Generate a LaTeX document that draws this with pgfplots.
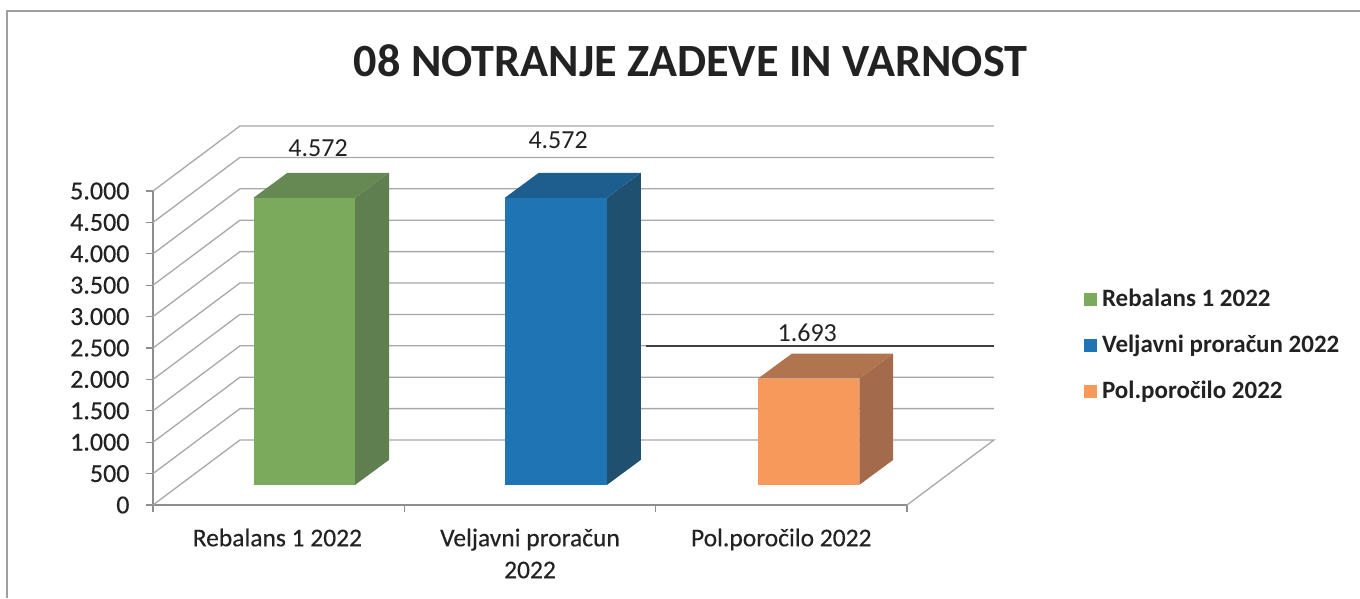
\documentclass[border=0pt]{standalone}
\usepackage{pgfplots}
\pgfplotsset{compat=1.18}
\usepackage{fontspec}
\setmainfont{Carlito}
\newfontfamily\semi[FakeBold=0.35]{Carlito}
\definecolor{gridc}{HTML}{A8A8A8}
\definecolor{axisc}{HTML}{8E8E8E}
\definecolor{txt}{HTML}{222222}
\definecolor{gF}{HTML}{7BAA5C}
\definecolor{gS}{HTML}{5F7F50}
\definecolor{gT}{HTML}{668853}
\definecolor{bF}{HTML}{1F75B4}
\definecolor{bS}{HTML}{20506F}
\definecolor{bT}{HTML}{1D5E8F}
\definecolor{oF}{HTML}{F6995A}
\definecolor{oS}{HTML}{A36B4B}
\definecolor{oT}{HTML}{B0754F}
\pgfplotsset{
  wall/.style={forget plot, gridc, line width=1.3pt, mark=none},
  face/.style={forget plot, draw=none, fill=#1, mark=none},
}
\begin{document}
\begin{tikzpicture}
\path[use as bounding box] (-153pt,-93pt) rectangle (1207pt,505pt);
\draw[color=axisc!85, line width=1.4pt] (-146pt,-93pt) -- (-146pt,494pt) -- (1207pt,494pt);
\begin{axis}[
  at={(0pt,0pt)}, anchor=south west,
  scale only axis, width=754pt, height=314pt,
  xmin=0, xmax=3, ymin=0, ymax=5000,
  clip=false,
  axis lines=left,
  axis line style={-, color=axisc, line width=1.3pt},
  every tick/.style={color=axisc, line width=1.3pt},
  major tick length=7pt,
  tick align=outside,
  xtick={0,1,2,3}, xticklabels={},
  extra x ticks={0.495,1.5,2.5},
  extra x tick labels={Rebalans 1 2022,{Veljavni proračun\\[8pt]2022},Pol.poročilo 2022},
  extra x tick style={major tick length=0pt, tick style={draw=none}},
  ytick={0,500,1000,1500,2000,2500,3000,3500,4000,4500,5000},
  /pgf/number format/assume math mode=true,
  /pgf/number format/1000 sep={.},
  /pgf/number format/min exponent for 1000 sep=3,
  y tick label style={font=\fontsize{26}{28}\semi, text=txt, xshift=-13pt},
  x tick label style={font=\fontsize{25.5}{24}\semi, text=txt, align=center, anchor=north, yshift=-20pt},
  title={\bfseries 08 NOTRANJE ZADEVE IN VARNOST},
  title style={at={(0.713,1.396)}, anchor=center, font=\fontsize{46.2}{48}\selectfont, text=txt},
  legend style={at={(1.2345,0.51)}, anchor=west, draw=none, fill=none,
    font=\fontsize{25}{26}\selectfont\bfseries, text=txt,
    row sep=23pt, cells={anchor=west}, inner sep=0pt,
    /tikz/every odd column/.append style={column sep=4pt}},
  legend cell align=left,
]
% legend
\addlegendimage{only marks, mark=square*, mark size=6pt, color=gF}
\addlegendentry{Rebalans 1 2022}
\addlegendimage{only marks, mark=square*, mark size=6pt, color=bF}
\addlegendentry{Veljavni proračun 2022}
\addlegendimage{only marks, mark=square*, mark size=6pt, color=oF}
\addlegendentry{Pol.poročilo 2022}
% walls and grid: left side wall and back wall
\addplot[wall] coordinates {(3,0) (3.346,1035) (0.346,1035) (0,0)};
\addplot[wall] coordinates {(0,500) (0.346,1535) (3.346,1535)};
\addplot[wall] coordinates {(0,1000) (0.346,2035) (3.346,2035)};
\addplot[wall] coordinates {(0,1500) (0.346,2535) (3.346,2535)};
\addplot[wall] coordinates {(0,2000) (0.346,3035) (3.346,3035)};
\addplot[wall] coordinates {(0,2500) (0.346,3535) (3.346,3535)};
\addplot[wall] coordinates {(0,3000) (0.346,4035) (3.346,4035)};
\addplot[wall] coordinates {(0,3500) (0.346,4535) (3.346,4535)};
\addplot[wall] coordinates {(0,4000) (0.346,5035) (3.346,5035)};
\addplot[wall] coordinates {(0,4500) (0.346,5535) (3.346,5535)};
\addplot[wall] coordinates {(0,5000) (0.346,6035) (3.346,6035)};
% dark stretch of the 1.500 back line
\addplot[forget plot, color=black!75, line width=1.5pt, mark=none] coordinates {(1.96,2535) (3.346,2535)};
% bars: base 320, value, side depth (0.135, 398)
\addplot[face=gS] coordinates {(0.804,320) (0.939,718) (0.939,5290) (0.804,4892)} -- cycle;
\addplot[face=gT] coordinates {(0.400,4892) (0.804,4892) (0.939,5290) (0.535,5290)} -- cycle;
\addplot[face=gF] coordinates {(0.400,320) (0.804,320) (0.804,4892) (0.400,4892)} -- cycle;
\addplot[face=bS] coordinates {(1.806,320) (1.941,718) (1.941,5290) (1.806,4892)} -- cycle;
\addplot[face=bT] coordinates {(1.400,4892) (1.806,4892) (1.941,5290) (1.535,5290)} -- cycle;
\addplot[face=bF] coordinates {(1.400,320) (1.806,320) (1.806,4892) (1.400,4892)} -- cycle;
\addplot[face=oS] coordinates {(2.810,320) (2.945,718) (2.945,2411) (2.810,2013)} -- cycle;
\addplot[face=oT] coordinates {(2.407,2013) (2.810,2013) (2.945,2411) (2.542,2411)} -- cycle;
\addplot[face=oF] coordinates {(2.407,320) (2.810,320) (2.810,2013) (2.407,2013)} -- cycle;
% data labels
\addplot[forget plot, only marks, mark=none,
  nodes near coords, point meta=explicit symbolic,
  every node near coord/.style={anchor=center, font=\fontsize{26}{28}\selectfont, text=txt}]
  table[meta=lab, row sep=\\] {
  x y lab\\
  0.657 5684 4.572\\
  1.612 5812 4.572\\
  2.603 2739 1.693\\
};
\end{axis}
\end{tikzpicture}
\end{document}
